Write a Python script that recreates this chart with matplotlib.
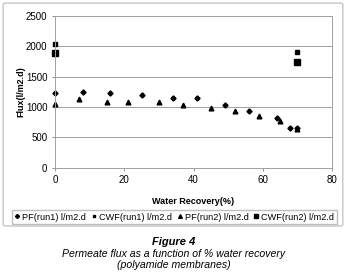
import matplotlib
matplotlib.use("Agg")
import matplotlib.pyplot as plt
from matplotlib.patches import FancyBboxPatch

plt.rcParams['font.family'] = ['Liberation Sans', 'DejaVu Sans']

# PF (run1) flux, l/m2.d
pf1_x = [0, 8, 16, 25, 34, 41, 49, 56, 64, 68, 70]
pf1_y = [1230, 1240, 1230, 1200, 1155, 1145, 1025, 930, 820, 655, 650]

# PF (run2) flux, l/m2.d
pf2_x = [0, 7, 15, 21, 30, 37, 45, 52, 59, 65, 70]
pf2_y = [1045, 1130, 1090, 1075, 1080, 1030, 990, 940, 855, 775, 635]

# clean water flux
cwf1_x = [0, 70]
cwf1_y = [2045, 1900]
cwf2_x = [0, 70]
cwf2_y = [1885, 1735]

labels = ['PF(run1) l/m2.d', 'CWF(run1) l/m2.d', 'PF(run2) l/m2.d', 'CWF(run2) l/m2.d']

fig = plt.figure(figsize=(3.47, 2.79), dpi=100)

# outer chart frame
frame = FancyBboxPatch((0.009, 0.19), 0.979, 0.799,
                       boxstyle="round,pad=0,rounding_size=0.006",
                       transform=fig.transFigure, facecolor='white',
                       edgecolor='#b8b8b8', linewidth=0.8, zorder=-1)
fig.patches.append(frame)

ax = fig.add_axes([0.1585, 0.399, 0.7983, 0.5437])
ax.set_zorder(2)
ax.set_facecolor('none')

h1, = ax.plot(pf1_x, pf1_y, 'D', color='black', markersize=2.6, linestyle='none', clip_on=False)
h2, = ax.plot(cwf1_x, cwf1_y, 's', color='black', markersize=2.6, linestyle='none', clip_on=False)
h3, = ax.plot(pf2_x, pf2_y, '^', color='black', markersize=3.4, linestyle='none', clip_on=False)
h4, = ax.plot(cwf2_x, cwf2_y, 's', color='black', markersize=4.2, linestyle='none', clip_on=False)

ax.set_xlim(0, 80)
ax.set_ylim(0, 2500)
ax.set_xticks([0, 20, 40, 60, 80])
ax.set_yticks([0, 500, 1000, 1500, 2000, 2500])
ax.grid(axis='y', color='#a0a0a0', linewidth=0.7)
ax.set_axisbelow(True)
for s in ax.spines.values():
    s.set_color('#a0a0a0')
    s.set_linewidth(0.7)
ax.tick_params(labelsize=7, length=2.5, width=0.6, color='#808080', pad=3)

ax.set_xlabel('Water Recovery(%)', fontsize=6.5, fontweight='bold')
ax.set_ylabel('Flux(l/m2.d)', fontsize=6.5, fontweight='bold')
ax.xaxis.set_label_coords(0.5, -0.19)
ax.yaxis.set_label_coords(-0.108, 0.5)

leg = fig.legend([h1, h2, h3, h4], labels, loc='center', bbox_to_anchor=(0.503, 0.222),
                 ncol=4, fontsize=6.6, frameon=True, fancybox=False, edgecolor='#b0b0b0',
                 handlelength=0.5, handletextpad=0.3, columnspacing=0.6,
                 borderpad=0.3, borderaxespad=0, markerscale=0.8)
leg.set_zorder(3)

fig.text(0.5, 1 - 242 / 279, 'Figure 4', ha='center', va='center',
         fontsize=8, fontweight='bold', style='italic')
fig.text(0.5, 1 - 254 / 279, 'Permeate flux as a function of % water recovery',
         ha='center', va='center', fontsize=7.6, style='italic')
fig.text(0.5, 1 - 265.5 / 279, '(polyamide membranes)',
         ha='center', va='center', fontsize=7.6, style='italic')

fig.savefig('out.png', dpi=100)
